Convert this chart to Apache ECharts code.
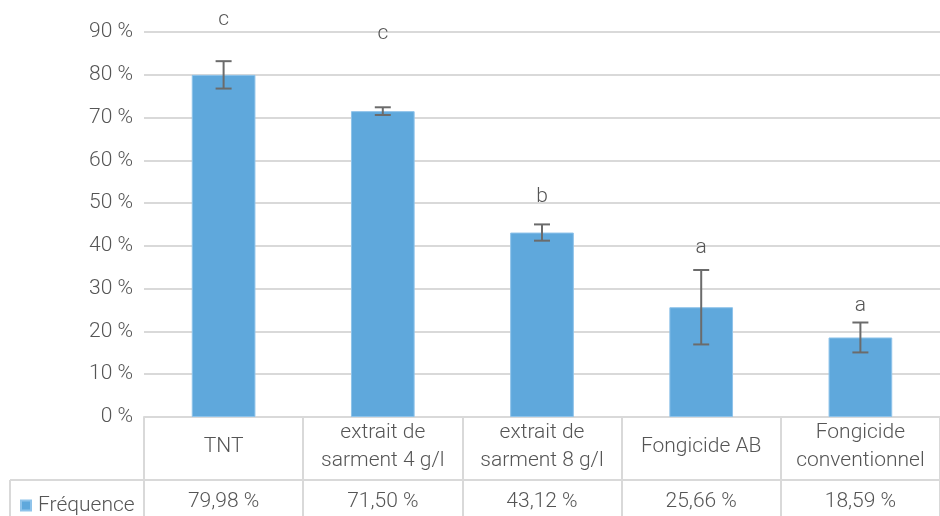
<!DOCTYPE html>
<html>
<head>
<meta charset="utf-8">
<script src="https://cdn.jsdelivr.net/npm/echarts@6/dist/echarts.min.js"></script>
<style>html,body{margin:0;padding:0;background:#fff}#c{width:940px;height:516px}</style>
</head>
<body>
<div id="c"></div>
<script>
const categories = ['TNT', 'extrait de\nsarment 4 g/l', 'extrait de\nsarment 8 g/l', 'Fongicide AB', 'Fongicide\nconventionnel'];
const values = [79.98, 71.50, 43.12, 25.66, 18.59];
const errors = [3.2, 0.9, 1.9, 8.7, 3.5];
const letters = ['c', 'c', 'b', 'a', 'a'];
const letterLevels = [92.8, 89.5, 51.6, 39.5, 25.9];
const yTicks = [0, 10, 20, 30, 40, 50, 60, 70, 80, 90];
const seriesName = 'Fréquence';

const FONT = 'Roboto';
const FW = 300;
const FS = 21;
const TXT = '#555555';
const GRID = '#d9d9d9';

const chart = echarts.init(document.getElementById('c'), null, {renderer: 'canvas'});
const valueLabels = values.map(v => v.toFixed(2).replace('.', ',') + ' %');

chart.setOption({
  animation: false,
  textStyle: {fontFamily: FONT, fontWeight: FW},
  grid: {left: 144, right: 0, top: 32, bottom: 99, containLabel: false},
  legend: {
    data: [seriesName], left: 15, top: 490, icon: 'rect',
    itemWidth: 10, itemHeight: 10, itemGap: 8,
    textStyle: {fontFamily: FONT, fontWeight: FW, fontSize: FS, color: TXT, padding: [0, 0, 0, 2]}
  },
  xAxis: [{
    type: 'category', data: categories, position: 'bottom',
    axisLine: {show: true, lineStyle: {color: GRID, width: 2}},
    axisTick: {show: true, length: 99, interval: 0, lineStyle: {color: GRID, width: 2}},
    axisLabel: {interval: 0, margin: 30, verticalAlign: 'middle', color: TXT, fontSize: FS, fontWeight: FW, lineHeight: 28, fontFamily: FONT}
  }, {
    type: 'category', data: valueLabels, position: 'bottom', gridIndex: 0,
    axisLine: {show: false}, axisTick: {show: false},
    axisLabel: {interval: 0, margin: 85, verticalAlign: 'middle', color: TXT, fontSize: FS, fontWeight: FW, fontFamily: FONT}
  }],
  yAxis: {
    type: 'value', min: yTicks[0], max: yTicks[yTicks.length - 1], interval: 10,
    axisLine: {show: false}, axisTick: {show: false},
    splitLine: {lineStyle: {color: GRID, width: 2}},
    axisLabel: {formatter: '{value} %', color: TXT, fontSize: FS, fontWeight: FW, margin: 11, fontFamily: FONT}
  },
  series: [{
    name: seriesName, type: 'bar', data: values, barWidth: '40%',
    itemStyle: {color: '#5fa8dc', borderColor: '#8fc3ea', borderWidth: 1}
  }, {
    name: 'err', type: 'custom',
    data: values.map((v, i) => [i, v - errors[i], v + errors[i]]),
    renderItem: function (params, api) {
      const hi = api.coord([api.value(0), api.value(2)]);
      const lo = api.coord([api.value(0), api.value(1)]);
      const w = 8;
      const st = {stroke: '#6b6b6b', lineWidth: 2};
      return {type: 'group', children: [
        {type: 'line', shape: {x1: hi[0], y1: hi[1], x2: lo[0], y2: lo[1]}, style: st},
        {type: 'line', shape: {x1: hi[0] - w, y1: hi[1], x2: hi[0] + w, y2: hi[1]}, style: st},
        {type: 'line', shape: {x1: lo[0] - w, y1: lo[1], x2: lo[0] + w, y2: lo[1]}, style: st}
      ]};
    },
    z: 5
  }, {
    name: 'letters', type: 'custom',
    data: letterLevels.map((v, i) => [i, v]),
    renderItem: function (params, api) {
      const p = api.coord([api.value(0), api.value(1)]);
      return {type: 'text', x: p[0], y: p[1], style: {
        text: letters[params.dataIndex], fill: TXT, fontSize: FS, fontWeight: FW, fontFamily: FONT,
        align: 'center', verticalAlign: 'middle'
      }};
    },
    z: 6
  }],
  graphic: [
    {type: 'line', shape: {x1: 10, y1: 480, x2: 940, y2: 480}, style: {stroke: GRID, lineWidth: 2}, silent: true},
    {type: 'line', shape: {x1: 10, y1: 480, x2: 10, y2: 516}, style: {stroke: GRID, lineWidth: 2}, silent: true}
  ]
});
</script>
</body>
</html>
